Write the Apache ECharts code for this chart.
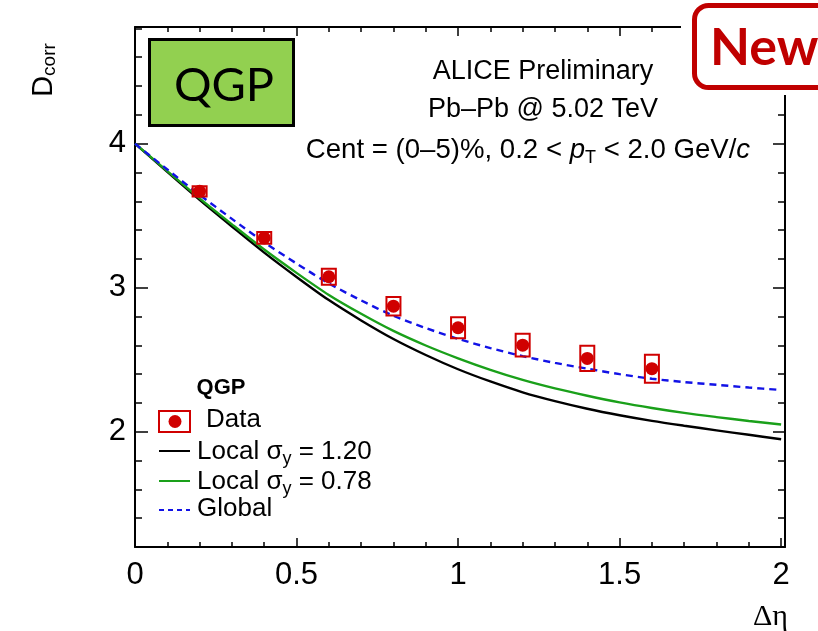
<!DOCTYPE html>
<html><head><meta charset="utf-8">
<script src="https://cdn.jsdelivr.net/npm/echarts@6/dist/echarts.min.js"></script>
<style>html,body{margin:0;padding:0;background:#fff}#c{width:818px;height:631px}</style>
</head><body><div id="c"></div>
<script>
// ---- data ----
const etaGrid = [0, 0.1, 0.2, 0.3, 0.4, 0.5, 0.6, 0.7, 0.8, 0.9, 1.0, 1.1, 1.2, 1.3, 1.4, 1.5, 1.6, 1.7, 1.8, 1.9, 2.0];
const localSigma120 = [4.000, 3.804, 3.610, 3.425, 3.244, 3.075, 2.914, 2.773, 2.644, 2.533, 2.434, 2.349, 2.274, 2.213, 2.160, 2.115, 2.076, 2.042, 2.010, 1.979, 1.948];
const localSigma078 = [4.000, 3.810, 3.620, 3.440, 3.265, 3.103, 2.950, 2.819, 2.700, 2.599, 2.510, 2.430, 2.360, 2.301, 2.250, 2.204, 2.165, 2.131, 2.102, 2.075, 2.050];
const globalModel   = [4.000, 3.821, 3.645, 3.478, 3.315, 3.168, 3.030, 2.912, 2.805, 2.720, 2.645, 2.581, 2.525, 2.478, 2.438, 2.400, 2.368, 2.345, 2.326, 2.307, 2.290];
const dataEta = [0.2, 0.4, 0.6, 0.8, 1.0, 1.2, 1.4, 1.6];
const dataD   = [3.669, 3.346, 3.076, 2.872, 2.722, 2.601, 2.509, 2.438];
const dataSys = [0.035, 0.040, 0.055, 0.064, 0.073, 0.079, 0.088, 0.097];
const xMajor = [0, 0.5, 1, 1.5, 2];
const xMinor = [0.1, 0.2, 0.3, 0.4, 0.6, 0.7, 0.8, 0.9, 1.1, 1.2, 1.3, 1.4, 1.6, 1.7, 1.8, 1.9];
const yMajor = [2, 3, 4];
const yMinor = [1.2, 1.4, 1.6, 1.8, 2.2, 2.4, 2.6, 2.8, 3.2, 3.4, 3.6, 3.8, 4.2, 4.4, 4.6, 4.8];
const X_MIN = 0, X_MAX = 2.012, Y_MIN = 1.2, Y_MAX = 4.81;

// ---- styles ----
const FONT = 'Liberation Sans, Arial, Helvetica, sans-serif';
const RED = '#d00000', GREEN = '#1aa01a', BLUE = '#1212e6', BLACK = '#000';

function xAx(pos, ticks, len, main) {
  return {
    type: 'value', position: pos, min: X_MIN, max: X_MAX,
    axisLine: { show: main, onZero: false, lineStyle: { color: BLACK, width: 2 } },
    axisTick: { show: true, inside: true, length: len, customValues: ticks, lineStyle: { color: BLACK, width: 1.5 } },
    axisLabel: (main && pos === 'bottom') ? { show: true, customValues: xMajor, fontSize: 31, color: BLACK, fontFamily: FONT, margin: 13, formatter: v => String(v) } : { show: false },
    splitLine: { show: false }
  };
}
function yAx(pos, ticks, len, main) {
  return {
    type: 'value', position: pos, min: Y_MIN, max: Y_MAX,
    axisLine: { show: main, onZero: false, lineStyle: { color: BLACK, width: 2 } },
    axisTick: { show: true, inside: true, length: len, customValues: ticks, lineStyle: { color: BLACK, width: 1.5 } },
    axisLabel: (main && pos === 'left') ? { show: true, customValues: yMajor, fontSize: 31, color: BLACK, fontFamily: FONT, margin: 9, formatter: v => String(v) } : { show: false },
    splitLine: { show: false }
  };
}

const pairs = arr => etaGrid.map((x, i) => [x, arr[i]]);

const chart = echarts.init(document.getElementById('c'), null, { renderer: 'canvas' });
chart.setOption({
  animation: false,
  backgroundColor: '#fff',
  grid: { left: 135, right: 33, top: 27, bottom: 84, containLabel: false },
  xAxis: [xAx('bottom', xMajor, 9, true), xAx('bottom', xMinor, 5, false), xAx('top', xMajor, 9, true), xAx('top', xMinor, 5, false)],
  yAxis: [yAx('left', yMajor, 13, true), yAx('left', yMinor, 7, false), yAx('right', yMajor, 12, true), yAx('right', yMinor, 7, false)],
  series: [
    { type: 'line', name: 'Local σy = 1.20', data: pairs(localSigma120), showSymbol: false, smooth: 0.3, lineStyle: { color: BLACK, width: 2.4 }, z: 3 },
    { type: 'line', name: 'Local σy = 0.78', data: pairs(localSigma078), showSymbol: false, smooth: 0.3, lineStyle: { color: GREEN, width: 2.4 }, z: 3 },
    { type: 'line', name: 'Global', data: pairs(globalModel), showSymbol: false, smooth: 0.3, lineStyle: { color: BLUE, width: 2.4, type: [7, 5] }, z: 3 },
    { type: 'custom', name: 'Data sys', z: 4,
      data: dataEta.map((x, i) => [x, dataD[i], dataSys[i]]),
      renderItem: (params, api) => {
        const x = api.value(0), y = api.value(1), e = api.value(2);
        const top = api.coord([x, y + e]), bot = api.coord([x, y - e]);
        return { type: 'rect', shape: { x: top[0] - 7, y: top[1], width: 14, height: bot[1] - top[1] },
                 style: { fill: 'none', stroke: RED, lineWidth: 2 } };
      } },
    { type: 'scatter', name: 'Data', data: dataEta.map((x, i) => [x, dataD[i]]), symbol: 'circle', symbolSize: 13,
      itemStyle: { color: RED, opacity: 1 }, z: 5 }
  ],
  graphic: [
    // axis titles
    { type: 'text', x: 44, y: 70, rotation: Math.PI / 2, style: { text: '{d|D}{s|corr}', align: 'center', verticalAlign: 'middle',
        rich: { d: { fontSize: 29, fontFamily: FONT, fill: BLACK }, s: { fontSize: 19, fontFamily: FONT, fill: BLACK, padding: [12, 0, 0, 0] } } } },
    { type: 'text', x: 788, y: 617, style: { text: 'Δη', align: 'right', verticalAlign: 'middle', fontSize: 30, fontFamily: 'Liberation Serif, DejaVu Serif, serif', fill: BLACK } },
    // header texts
    { type: 'text', x: 543, y: 72, style: { text: 'ALICE Preliminary', align: 'center', verticalAlign: 'middle', fontSize: 27, fontFamily: FONT, fill: BLACK } },
    { type: 'text', x: 543, y: 110, style: { text: 'Pb–Pb @ 5.02 TeV', align: 'center', verticalAlign: 'middle', fontSize: 27, fontFamily: FONT, fill: BLACK } },
    { type: 'text', x: 528, y: 150, style: { text: '{n|Cent = (0–5)%, 0.2 < }{i|p}{s|T}{n| < 2.0 GeV/}{i|c}', align: 'center', verticalAlign: 'middle',
        rich: { n: { fontSize: 27.6, fontFamily: FONT, fill: BLACK }, i: { fontSize: 27.6, fontFamily: FONT, fontStyle: 'italic', fill: BLACK },
                s: { fontSize: 18, fontFamily: FONT, fill: BLACK, padding: [16, 0, 0, 0] } } } },
    // QGP box
    { type: 'rect', shape: { x: 149.5, y: 39.5, width: 144, height: 86 }, style: { fill: '#92d050', stroke: BLACK, lineWidth: 3 }, z: 50 },
    { type: 'text', x: 224, y: 86, style: { text: 'QGP', align: 'center', verticalAlign: 'middle', fontSize: 47, fontFamily: 'Lato, Open Sans, sans-serif', fill: BLACK }, z: 51 },
    // New badge
    { type: 'rect', shape: { x: 681, y: 0, width: 137, height: 95 }, style: { fill: '#fff' }, z: 100 },
    { type: 'rect', shape: { x: 694.5, y: 5.5, width: 140, height: 82, r: 14 }, style: { fill: '#fff', stroke: '#c00000', lineWidth: 5 }, z: 101 },
    { type: 'text', x: 710, y: 48, style: { text: 'New', align: 'left', verticalAlign: 'middle', fontSize: 52, fontWeight: 'bold', fontFamily: 'Lato, Open Sans, sans-serif', fill: '#c00000' }, z: 102 },
    // legend
    { type: 'text', x: 221, y: 388, style: { text: 'QGP', align: 'center', verticalAlign: 'middle', fontSize: 22, fontWeight: 'bold', fontFamily: FONT, fill: BLACK } },
    { type: 'rect', shape: { x: 159, y: 411, width: 31, height: 21 }, style: { fill: 'none', stroke: RED, lineWidth: 2 } },
    { type: 'circle', shape: { cx: 175, cy: 421.5, r: 6.5 }, style: { fill: RED } },
    { type: 'text', x: 206, y: 420, style: { text: 'Data', align: 'left', verticalAlign: 'middle', fontSize: 26, fontFamily: FONT, fill: BLACK } },
    { type: 'line', shape: { x1: 159, y1: 451, x2: 190, y2: 451 }, style: { stroke: BLACK, lineWidth: 2 } },
    { type: 'text', x: 197, y: 452, style: { text: '{n|Local σ}{s|y}{n| = 1.20}', align: 'left', verticalAlign: 'middle',
        rich: { n: { fontSize: 26, fontFamily: FONT, fill: BLACK }, s: { fontSize: 18, fontFamily: FONT, fill: BLACK, padding: [14, 0, 0, 0] } } } },
    { type: 'line', shape: { x1: 159, y1: 481, x2: 190, y2: 481 }, style: { stroke: GREEN, lineWidth: 2 } },
    { type: 'text', x: 197, y: 482, style: { text: '{n|Local σ}{s|y}{n| = 0.78}', align: 'left', verticalAlign: 'middle',
        rich: { n: { fontSize: 26, fontFamily: FONT, fill: BLACK }, s: { fontSize: 18, fontFamily: FONT, fill: BLACK, padding: [14, 0, 0, 0] } } } },
    { type: 'line', shape: { x1: 159, y1: 510, x2: 190, y2: 510 }, style: { stroke: BLUE, lineWidth: 2, lineDash: [5, 4] } },
    { type: 'text', x: 197, y: 509, style: { text: 'Global', align: 'left', verticalAlign: 'middle', fontSize: 26, fontFamily: FONT, fill: BLACK } }
  ]
});
</script></body></html>
